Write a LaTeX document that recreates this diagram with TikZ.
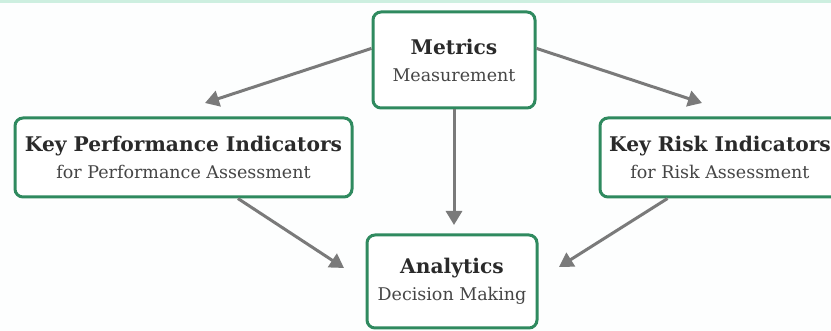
\documentclass[tikz,border=0pt]{standalone}
\usepackage{fontspec}
\setmainfont{DejaVu Serif}
\usetikzlibrary{arrows.meta}
\definecolor{bgreen}{HTML}{2F8A5F}
\definecolor{agray}{HTML}{7A7A7A}
\definecolor{mint}{HTML}{CDEFE0}
\definecolor{tdark}{HTML}{2A2A2A}
\definecolor{tsub}{HTML}{454545}
\tikzset{box/.style = {draw=bgreen, line width=3, rounded corners=8, fill=white, align=center, inner sep=0,
    text=tsub, font=\fontsize{17.5}{27}\selectfont}}
\tikzset{flow/.style = {draw=agray, line width=3, -{Triangle[length=14, width=16]}}}
\newcommand{\ttl}[1]{{\fontsize{20.2}{27}\selectfont\bfseries\color{tdark}#1}}

\begin{document}
\begin{tikzpicture}[x=1pt, y=-1pt]
      \useasboundingbox (0, 0) rectangle (831, 331);
      \clip (0, 0) rectangle (831, 331);
      \fill[white!97!mint] (0, 0) rectangle (831, 331);
      \fill[mint] (0, 0) rectangle (831, 3);
      % the four boxes
      \node [box, minimum width=162, minimum height=96] (met) at (454, 60)
      {\ttl{Metrics}\\Measurement};
      \node [box, minimum width=337, minimum height=79] (kpi) at (183.5, 157.5)
      {\ttl{Key Performance Indicators}\\for Performance Assessment};
      \node [box, minimum width=240, minimum height=79] (kri) at (720, 157.5)
      {\ttl{Key Risk Indicators}\\for Risk Assessment};
      \node [box, minimum width=170, minimum height=93] (ana) at (452, 281.5)
      {\ttl{Analytics}\\Decision Making};
      % arrow tips stop short of the boxes
      \coordinate (kpitop) at (205, 103);
      \coordinate (kritop) at (702, 103);
      \coordinate (anatop) at (454, 225);
      \coordinate (analeft) at (344, 268);
      \coordinate (anaright) at (559, 267);
      \draw [flow] (met.172) -- (kpitop);
      \draw [flow] (met.8) -- (kritop);
      \draw [flow] (met.south) -- (anatop);
      \draw [flow] (kpi.-37) -- (analeft);
      \draw [flow] (kri.218) -- (anaright);
    \end{tikzpicture}
\end{document}
